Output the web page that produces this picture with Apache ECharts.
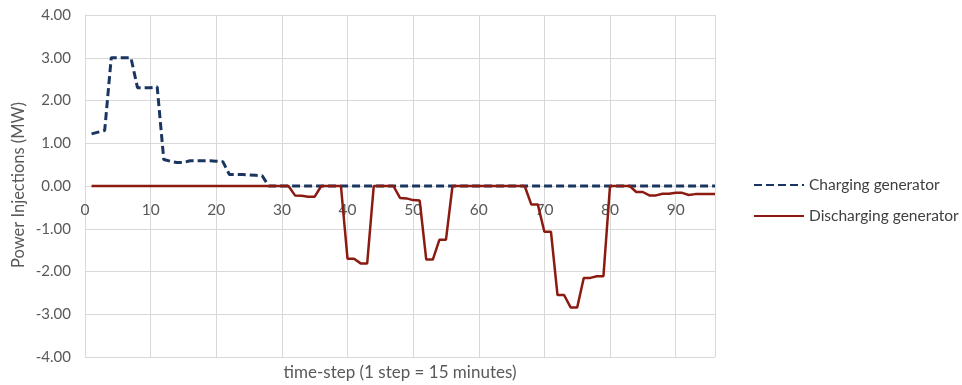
<!DOCTYPE html>
<html>
<head>
<meta charset="utf-8">
<script src="https://cdn.jsdelivr.net/npm/echarts@6/dist/echarts.min.js"></script>
<style>html,body{margin:0;padding:0;background:#fff}#c{width:962px;height:385px}</style>
</head>
<body>
<div id="c"></div>
<script>
var steps = [1,2,3,4,5,6,7,8,9,10,11,12,13,14,15,16,17,18,19,20,21,22,23,24,25,26,27,28,29,30,31,32,33,34,35,36,37,38,39,40,41,42,43,44,45,46,47,48,49,50,51,52,53,54,55,56,57,58,59,60,61,62,63,64,65,66,67,68,69,70,71,72,73,74,75,76,77,78,79,80,81,82,83,84,85,86,87,88,89,90,91,92,93,94,95,96];
var charging = [1.22,1.26,1.30,3.00,3.00,3.00,3.00,2.30,2.30,2.30,2.32,0.62,0.58,0.55,0.55,0.59,0.59,0.59,0.59,0.58,0.57,0.27,0.27,0.27,0.26,0.25,0.24,0,0,0,0,0,0,0,0,0,0,0,0,0,0,0,0,0,0,0,0,0,0,0,0,0,0,0,0,0,0,0,0,0,0,0,0,0,0,0,0,0,0,0,0,0,0,0,0,0,0,0,0,0,0,0,0,0,0,0,0,0,0,0,0,0,0,0,0,0,0,0];
var discharging = [0,0,0,0,0,0,0,0,0,0,0,0,0,0,0,0,0,0,0,0,0,0,0,0,0,0,0,0,0,0,0,-0.22,-0.23,-0.25,-0.25,0,0,0,0,-1.70,-1.70,-1.81,-1.81,0,0,0,0,-0.28,-0.29,-0.33,-0.34,-1.72,-1.72,-1.26,-1.26,0,0,0,0,0,0,0,0,0,0,0,0,-0.43,-0.43,-1.07,-1.07,-2.55,-2.55,-2.84,-2.84,-2.15,-2.15,-2.11,-2.11,0,0,0,0,-0.14,-0.14,-0.22,-0.22,-0.18,-0.18,-0.16,-0.16,-0.21,-0.19,-0.19,-0.19,-0.19];
var seriesNames = ['Charging generator','Discharging generator'];
var yTitle = 'Power Injections (MW)';
var xTitle = 'time-step (1 step = 15 minutes)';

function pairs(vals){ return steps.map(function(s,i){ return [s, vals[i]]; }); }

var chart = echarts.init(document.getElementById('c'), null, {renderer:'canvas'});
var font = 'Lato';
var gridTop = 15, gridBottom = 28, H = 385;
var zeroOffset = -((H - gridTop - gridBottom) / 2);
chart.setOption({
  animation: false,
  textStyle: {fontFamily: font},
  grid: {left: 85, right: 247, top: gridTop, bottom: gridBottom, containLabel: false, outerBoundsMode: 'none'},
  legend: {
    orient: 'vertical', left: 748, top: 172,
    itemWidth: 50, itemHeight: 12, itemGap: 15,
    itemStyle: {opacity: 0},
    textStyle: {color: '#404040', fontSize: 15.5, fontFamily: font},
    data: seriesNames
  },
  graphic: [
    {type: 'text', x: 400, y: 373, style: {text: xTitle, fill: '#595959', font: '17px ' + font, align: 'center', verticalAlign: 'middle'}},
    {type: 'text', x: 19, y: 185, rotation: Math.PI / 2, originX: 0, originY: 0,
     style: {text: yTitle, fill: '#595959', font: '16.5px ' + font, align: 'center', verticalAlign: 'middle'}}
  ],
  xAxis: {
    type: 'value', min: 0, max: 96, interval: 10,
    position: 'bottom', offset: zeroOffset,
    axisLine: {onZero: false, lineStyle: {color: '#d9d9d9'}},
    axisTick: {show: false},
    axisLabel: {color: '#595959', fontSize: 15.5, margin: 16,
      formatter: function(v){ return v <= 90 ? String(v) : ''; }},
    splitLine: {show: true, lineStyle: {color: '#d9d9d9', width: 1}}
  },
  yAxis: {
    type: 'value', min: -4, max: 4, interval: 1,
    axisLine: {show: true, onZero: false, lineStyle: {color: '#d9d9d9'}},
    axisTick: {show: false},
    axisLabel: {color: '#595959', fontSize: 15, margin: 14, formatter: function(v){ return v.toFixed(2); }},
    splitLine: {show: true, lineStyle: {color: '#d9d9d9', width: 1}}
  },
  series: [
    {name: seriesNames[0], type: 'line', data: pairs(charging), symbol: 'none', showSymbol: false,
     lineStyle: {color: '#1a3560', width: 3, type: [8, 4]}, itemStyle: {color: '#1a3560'}, z: 2},
    {name: seriesNames[1], type: 'line', data: pairs(discharging), symbol: 'none', showSymbol: false,
     lineStyle: {color: '#8b1a10', width: 2.5}, itemStyle: {color: '#8b1a10'}, z: 3}
  ]
});
</script>
</body>
</html>
